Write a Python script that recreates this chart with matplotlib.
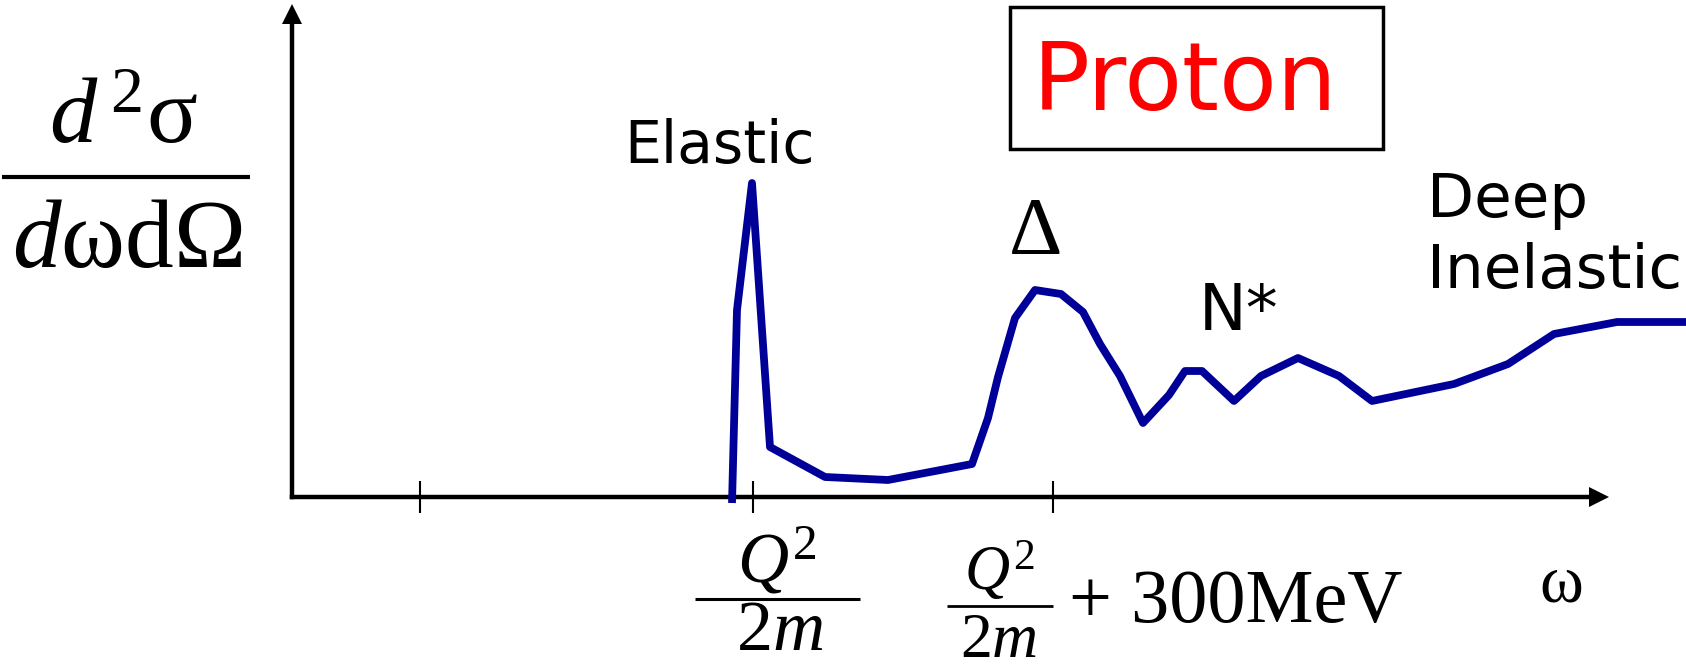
import matplotlib
matplotlib.use("Agg")
import matplotlib.pyplot as plt
from matplotlib.patches import Rectangle

plt.rcParams["mathtext.fontset"] = "custom"
plt.rcParams["mathtext.rm"] = "Liberation Serif"
plt.rcParams["mathtext.it"] = "Liberation Serif:italic"
plt.rcParams["mathtext.bf"] = "Liberation Serif:bold"

# omega measured from Q^2/2m (MeV), cross-section in arbitrary units
omega = [-21, -16, -1, 17, 72, 135, 219, 235, 245, 262, 282, 308, 330, 347,
         367, 390, 416, 432, 449, 481, 508, 545, 586, 619, 701, 755, 801, 864, 933]
xsec = [-6, 187, 314, 50, 20, 17, 33, 79, 120, 179, 207, 203, 185, 153,
        121, 74, 102, 126, 126, 96, 121, 139, 121, 96, 113, 133, 163, 175, 175]
tick_positions = [-333, 0, 300]
tick_labels = ["", "", ""]

SERIF = "Liberation Serif"
HAND = "DejaVu Sans"

fig = plt.figure(figsize=(16.86, 6.69), dpi=100)
ax = fig.add_axes([0, 0, 1, 1])
ax.set_xlim(-753, 933)
ax.set_ylim(-172, 497)
ax.patch.set_alpha(0)

for s in ["top", "right"]:
    ax.spines[s].set_visible(False)
ax.spines["left"].set_position(("data", -461))
ax.spines["bottom"].set_position(("data", 0))
ax.spines["left"].set_bounds(0, 482)
ax.spines["bottom"].set_bounds(-461, 845)
for s in ["left", "bottom"]:
    ax.spines[s].set_linewidth(3.2)
ax.set_yticks([])
ax.set_xticks(tick_positions)
ax.set_xticklabels(tick_labels)
ax.tick_params(axis="x", direction="inout", length=23, width=1.5, color="k")

# arrow heads
ax.plot([-461], [483], marker="^", ms=14, mew=0, color="k", clip_on=False)
ax.plot([846], [0], marker=">", ms=14, mew=0, color="k", clip_on=False)

# curve
ax.plot(omega, xsec, color="#000099", lw=5.6, clip_on=False, zorder=4,
        solid_capstyle="butt", solid_joinstyle="round")

# y label (fraction)
ax.text(-630, 354, r"$d^{\,2}\mathrm{σ}$", fontsize=68, ha="center", va="baseline")
ax.plot([-751, -503], [320, 320], color="k", lw=3.0, clip_on=False, solid_capstyle="butt")
ax.text(-626, 230, r"$d\mathrm{ωdΩ}$", fontsize=70, ha="center", va="baseline")

# x tick labels
ax.text(24, -86, r"$Q^2$", fontsize=51, ha="center", va="baseline")
ax.plot([-58, 107], [-102, -102], color="k", lw=2.2, solid_capstyle="butt")
ax.text(27, -153, r"$2m$", fontsize=52, ha="center", va="baseline")

ax.text(246, -93, r"$Q^2$", fontsize=45, ha="center", va="baseline")
ax.plot([194, 300], [-109, -109], color="k", lw=2.0, solid_capstyle="butt")
ax.text(246, -160, r"$2m$", fontsize=46, ha="center", va="baseline")
ax.text(316, -125, "+ 300MeV", fontsize=55, family=SERIF, ha="left", va="baseline")

ax.text(808, -105, "ω", fontsize=48, family=SERIF, ha="center", va="baseline")

# annotations
ax.text(-33, 334, "Elastic", fontsize=42, family=HAND, ha="center", va="baseline")
ax.text(283, 243, "Δ", fontsize=60, family=SERIF, ha="center", va="baseline")
ax.text(446, 167, "N*", fontsize=46, family=HAND, ha="left", va="baseline")
ax.text(674, 280, "Deep", fontsize=44, family=HAND, ha="left", va="baseline")
ax.text(674, 209, "Inelastic", fontsize=44, family=HAND, ha="left", va="baseline")

ax.add_patch(Rectangle((257, 348), 373, 142, fill=False, lw=2.5, ec="k", clip_on=False))
ax.text(432, 387, "Proton", fontsize=68, color="#ff0000", family=HAND,
        ha="center", va="baseline")

fig.savefig("out.png", dpi=100)
